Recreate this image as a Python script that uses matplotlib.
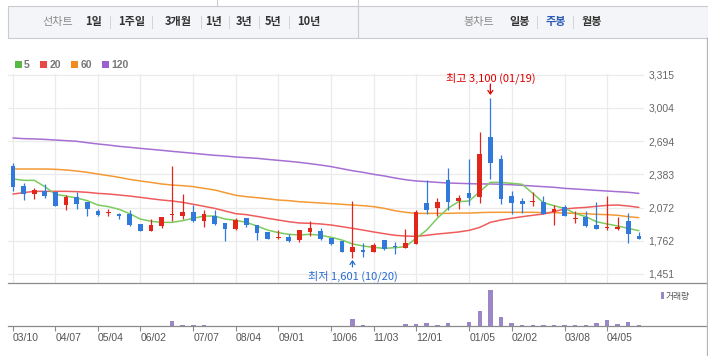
import matplotlib
matplotlib.use('Agg')
import matplotlib.pyplot as plt
from matplotlib.patches import Rectangle
from matplotlib.lines import Line2D

# ---------------- data ----------------
opens = [2461, 2274, 2202, 2224, 2218, 2099, 2171, 2124, 2040, 2018,
         2015, 2012, 1922, 1856, 1903, 1999, 1996, 2031, 1950, 1993,
         1931, 1875, 1972, 1909, 1844, 1788, 1797, 1769, 1847, 1850,
         1785, 1763, 1660, 1676, 1660, 1766, 1706, 1697, 1735, 2112,
         2071, 2330, 2137, 2205, 2174, 2732, 2526, 2184, 2134, 2121,
         2124, 2028, 2075, 1969, 1987, 1912, 1881, 1872, 1947, 1803]
highs = [2492, 2305, 2258, 2290, 2218, 2190, 2221, 2124, 2062, 2056,
         2025, 2050, 1922, 1965, 1984, 2461, 2199, 2096, 2053, 2050,
         1931, 1978, 1972, 1909, 1844, 1862, 1825, 1859, 1947, 1878,
         1785, 1763, 2137, 1744, 1738, 1766, 1750, 1869, 2050, 2330,
         2162, 2442, 2187, 2526, 2782, 3100, 2561, 2224, 2165, 2215,
         2180, 2093, 2096, 2043, 2037, 2124, 2184, 1987, 2022, 1847]
lows = [2230, 2143, 2155, 2165, 2090, 2050, 2062, 1996, 1996, 1996,
        1968, 1900, 1856, 1856, 1884, 1947, 1968, 1940, 1894, 1912,
        1763, 1866, 1894, 1769, 1781, 1781, 1750, 1753, 1809, 1769,
        1722, 1660, 1601, 1613, 1660, 1676, 1641, 1697, 1735, 2012,
        1996, 2050, 2056, 2099, 2118, 2343, 2106, 2015, 2022, 2090,
        2015, 1912, 1996, 1925, 1894, 1875, 1862, 1862, 1744, 1778]
closes = [2268, 2202, 2237, 2184, 2090, 2171, 2109, 2062, 2006, 2025,
          1996, 1909, 1856, 1912, 1984, 2006, 2031, 1950, 2012, 1922,
          1872, 1956, 1909, 1838, 1781, 1794, 1760, 1859, 1884, 1781,
          1731, 1660, 1703, 1660, 1719, 1682, 1700, 1741, 2028, 2050,
          2124, 2128, 2162, 2165, 2573, 2492, 2149, 2118, 2109, 2134,
          2015, 2056, 1996, 1975, 1903, 1875, 1887, 1890, 1828, 1778]

ma5 = [2340, 2327, 2327, 2268, 2196, 2180, 2162, 2137, 2096, 2081,
       2056, 2015, 1965, 1944, 1934, 1934, 1950, 1972, 1993, 1993,
       1965, 1953, 1934, 1900, 1862, 1838, 1822, 1816, 1822, 1813,
       1794, 1769, 1732, 1713, 1700, 1691, 1697, 1707, 1785, 1862,
       1972, 2065, 2127, 2134, 2221, 2308, 2308, 2299, 2290, 2205,
       2118, 2090, 2065, 2018, 1987, 1940, 1919, 1900, 1878, 1856]
ma20 = [2199, 2212, 2224, 2224, 2224, 2224, 2221, 2215, 2205, 2199,
        2190, 2180, 2168, 2155, 2143, 2134, 2121, 2103, 2084, 2065,
        2040, 2015, 2006, 1990, 1972, 1956, 1940, 1928, 1925, 1919,
        1909, 1894, 1878, 1862, 1844, 1828, 1813, 1806, 1803, 1813,
        1825, 1834, 1844, 1859, 1887, 1934, 1956, 1972, 1987, 2000,
        2012, 2034, 2059, 2068, 2074, 2084, 2093, 2096, 2087, 2074]
ma60 = [2433, 2433, 2433, 2433, 2430, 2424, 2414, 2402, 2386, 2371,
        2355, 2336, 2321, 2308, 2293, 2283, 2277, 2268, 2252, 2237,
        2212, 2187, 2174, 2165, 2155, 2143, 2137, 2127, 2121, 2115,
        2109, 2103, 2096, 2090, 2081, 2065, 2043, 2028, 2018, 2018,
        2018, 2018, 2021, 2021, 2025, 2028, 2028, 2028, 2028, 2028,
        2025, 2025, 2021, 2018, 2015, 2009, 2006, 2000, 1987, 1978]
ma120 = [2723, 2717, 2714, 2710, 2704, 2698, 2692, 2679, 2667, 2657,
         2645, 2636, 2626, 2617, 2608, 2598, 2589, 2580, 2570, 2561,
         2555, 2545, 2539, 2533, 2523, 2514, 2505, 2495, 2483, 2470,
         2455, 2436, 2417, 2402, 2383, 2368, 2349, 2333, 2321, 2315,
         2308, 2302, 2299, 2296, 2293, 2293, 2290, 2286, 2280, 2274,
         2268, 2262, 2252, 2246, 2240, 2233, 2227, 2221, 2215, 2205]
volume = [0, 0, 0, 0, 0, 0, 0, 0, 0, 0,
          0, 0, 0, 0, 0, 15, 3, 3, 3, 0,
          0, 0, 0, 0, 0, 0, 0, 0, 0, 0,
          0, 0, 21, 4, 0, 0, 0, 6, 6, 9,
          3, 9, 0, 12, 45, 108, 27, 9, 3, 3,
          3, 3, 3, 3, 3, 9, 18, 6, 12, 3]

tick_pos = [0, 4, 8, 12, 17, 21, 25, 30, 34, 38, 43, 47, 52, 56]
tick_labels = ['03/10', '04/07', '05/04', '06/02', '07/07', '08/04', '09/01',
               '10/06', '11/03', '12/01', '01/05', '02/02', '03/08', '04/05']
y_ticks = [1451, 1762, 2072, 2383, 2694, 3004, 3315]
ma_labels = ['5', '20', '60', '120']

high_idx, high_val, high_txt = 45, 3100, '최고 3,100 (01/19)'
low_idx, low_val, low_txt = 32, 1601, '최저 1,601 (10/20)'

# ---------------- style ----------------
W, H = 708, 356
KR = ['Noto Sans CJK KR', 'DejaVu Sans']
LAT = ['Liberation Sans', 'DejaVu Sans']
plt.rcParams['font.family'] = LAT

RED = '#e3261c'
BLUE = '#3279dc'
ma_colors = ['#7ccb5e', '#ef5c5c', '#f39a35', '#a66fd3']
leg_colors = ['#56ba42', '#ea4646', '#f38a1f', '#9c5fd0']
GRID = '#ebebeb'
AXLINE = '#8a8a8a'


def fx(x):
    return x / W


def fy(y):
    return 1 - y / H


fig = plt.figure(figsize=(W / 100, H / 100), dpi=100)
fig.patch.set_facecolor('white')

# ---------------- top bar ----------------
fig.patches.append(Rectangle((fx(8), fy(37.5)), 699.5 / W, 31.5 / H,
                             transform=fig.transFigure, facecolor='#f4f5f8',
                             edgecolor='#c9cbd0', lw=0.8))
fig.add_artist(Line2D([fx(358), fx(358)], [fy(0), fy(37.5)], color='#c9cbd0', lw=0.8))
fig.add_artist(Line2D([fx(217), fx(217)], [fy(0), fy(6)], color='#c9cbd0', lw=0.8))

bar_items = [('선차트', 57.5, '#8a8a8a', 'normal'),
             ('1일', 93.5, '#333333', 'bold'),
             ('1주일', 132, '#333333', 'bold'),
             ('3개월', 178, '#333333', 'bold'),
             ('1년', 214, '#333333', 'bold'),
             ('3년', 244, '#333333', 'bold'),
             ('5년', 273.5, '#333333', 'bold'),
             ('10년', 309, '#333333', 'bold'),
             ('봉차트', 479, '#8a8a8a', 'normal'),
             ('일봉', 519.5, '#333333', 'bold'),
             ('주봉', 555.5, '#2b5cb8', 'bold'),
             ('월봉', 591.5, '#333333', 'bold')]
for txt, x, c, w in bar_items:
    fig.text(fx(x), fy(21.5), txt, ha='center', va='center', fontsize=8,
             color=c, fontweight=w, family=KR)
for x in [110, 152, 201, 229, 258.5, 289, 537, 573]:
    fig.add_artist(Line2D([fx(x), fx(x)], [fy(15.5), fy(27.5)], color='#d3d3d3', lw=0.7))

# ---------------- legend ----------------
leg_x = [15, 40, 71, 101.7]
for lab, x, c in zip(ma_labels, leg_x, leg_colors):
    fig.patches.append(Rectangle((fx(x), fy(67.8)), 6.8 / W, 6.8 / H,
                                 transform=fig.transFigure, facecolor=c, edgecolor='none'))
    fig.text(fx(x + 9.2), fy(64.5), lab, ha='left', va='center', fontsize=7.5,
             color='#777777', fontweight='bold')

# ---------------- main price axes ----------------
top_px, bot_px = 74.0, 283.3
ax = fig.add_axes([fx(8), fy(bot_px), 635 / W, (bot_px - top_px) / H])
ax.set_xlim(-0.471, 59.39)
ax.set_ylim(1364, 3321.5)
for s in ax.spines.values():
    s.set_visible(False)
ax.set_facecolor('none')

for v in y_ticks:
    ax.axhline(v, color=GRID, lw=0.9, zorder=0, clip_on=False)
for p in tick_pos:
    ax.axvline(p, color=GRID, lw=0.9, zorder=0)

ax.yaxis.tick_right()
ax.set_yticks(y_ticks)
ax.set_yticklabels([f'{v:,}' for v in y_ticks])
ax.tick_params(axis='y', length=0, pad=4, labelsize=7.5, labelcolor='#666666')
ax.set_xticks([])

idx = list(range(len(opens)))
body_w = 0.44
min_body = 9
for i in idx:
    o, h, l, c = opens[i], highs[i], lows[i], closes[i]
    col = RED if c >= o else BLUE
    ax.vlines(i, l, h, color=col, lw=0.9, zorder=3)
    lo = min(o, c)
    hgt = max(abs(c - o), min_body)
    ax.bar(i, hgt, bottom=lo, width=body_w, color=col, edgecolor='none', zorder=4)

for series, c in zip([ma120, ma60, ma20, ma5], ma_colors[::-1]):
    ax.plot(idx, series, color=c, lw=1.1, zorder=2, solid_capstyle='round')

# annotations
PT = 0.72  # points per pixel
ax.annotate(high_txt, xy=(high_idx, high_val), xytext=(0, 19.2 * PT),
            textcoords='offset points', ha='center', va='center', fontsize=8,
            color='#e00000', family=KR, annotation_clip=False)
ax.annotate('', xy=(high_idx, high_val), xytext=(0, 13.7 * PT),
            textcoords='offset points',
            arrowprops=dict(arrowstyle='->,head_length=0.25,head_width=0.18',
                            color='#e00000', lw=0.9, shrinkA=0, shrinkB=2.7 * PT))
ax.annotate(low_txt, xy=(low_idx, low_val), xytext=(0, -18 * PT),
            textcoords='offset points', ha='center', va='center', fontsize=8,
            color='#2a6bd0', family=KR, annotation_clip=False)
ax.annotate('', xy=(low_idx, low_val), xytext=(0, -9 * PT),
            textcoords='offset points',
            arrowprops=dict(arrowstyle='->,head_length=0.25,head_width=0.18',
                            color='#2a6bd0', lw=0.9, shrinkA=0, shrinkB=2 * PT))

# ---------------- volume axes ----------------
vtop, vbot = 283.3, 326.0
ax2 = fig.add_axes([fx(8), fy(vbot), 635 / W, (vbot - vtop) / H])
ax2.set_xlim(-0.471, 59.39)
ax2.set_ylim(0, 128)
for s in ax2.spines.values():
    s.set_visible(False)
ax2.set_facecolor('none')
ax2.bar(idx, volume, width=0.42, color='#9b87c7', edgecolor='none')
ax2.set_yticks([])
ax2.set_xticks(tick_pos)
ax2.set_xticklabels(tick_labels, ha='left')
ax2.tick_params(axis='x', length=5 * PT, width=0.8, color=AXLINE, pad=1.5,
                labelsize=7.5, labelcolor='#555555')

# volume legend
fig.patches.append(Rectangle((fx(661), fy(299.3)), 2.8 / W, 7 / H,
                             transform=fig.transFigure, facecolor='#9b87c7', edgecolor='none'))
fig.text(fx(665.5), fy(296), '거래량', ha='left', va='center', fontsize=6.3,
         color='#555555', family=KR)

# frame lines
fig.add_artist(Line2D([fx(8), fx(707)], [fy(283.3), fy(283.3)], color=AXLINE, lw=0.9))
fig.add_artist(Line2D([fx(8), fx(707)], [fy(326.3), fy(326.3)], color=AXLINE, lw=0.9))
fig.add_artist(Line2D([fx(707), fx(707)], [fy(38), fy(356)], color='#b5b5b5', lw=0.9))

fig.savefig('out.png', dpi=100)
